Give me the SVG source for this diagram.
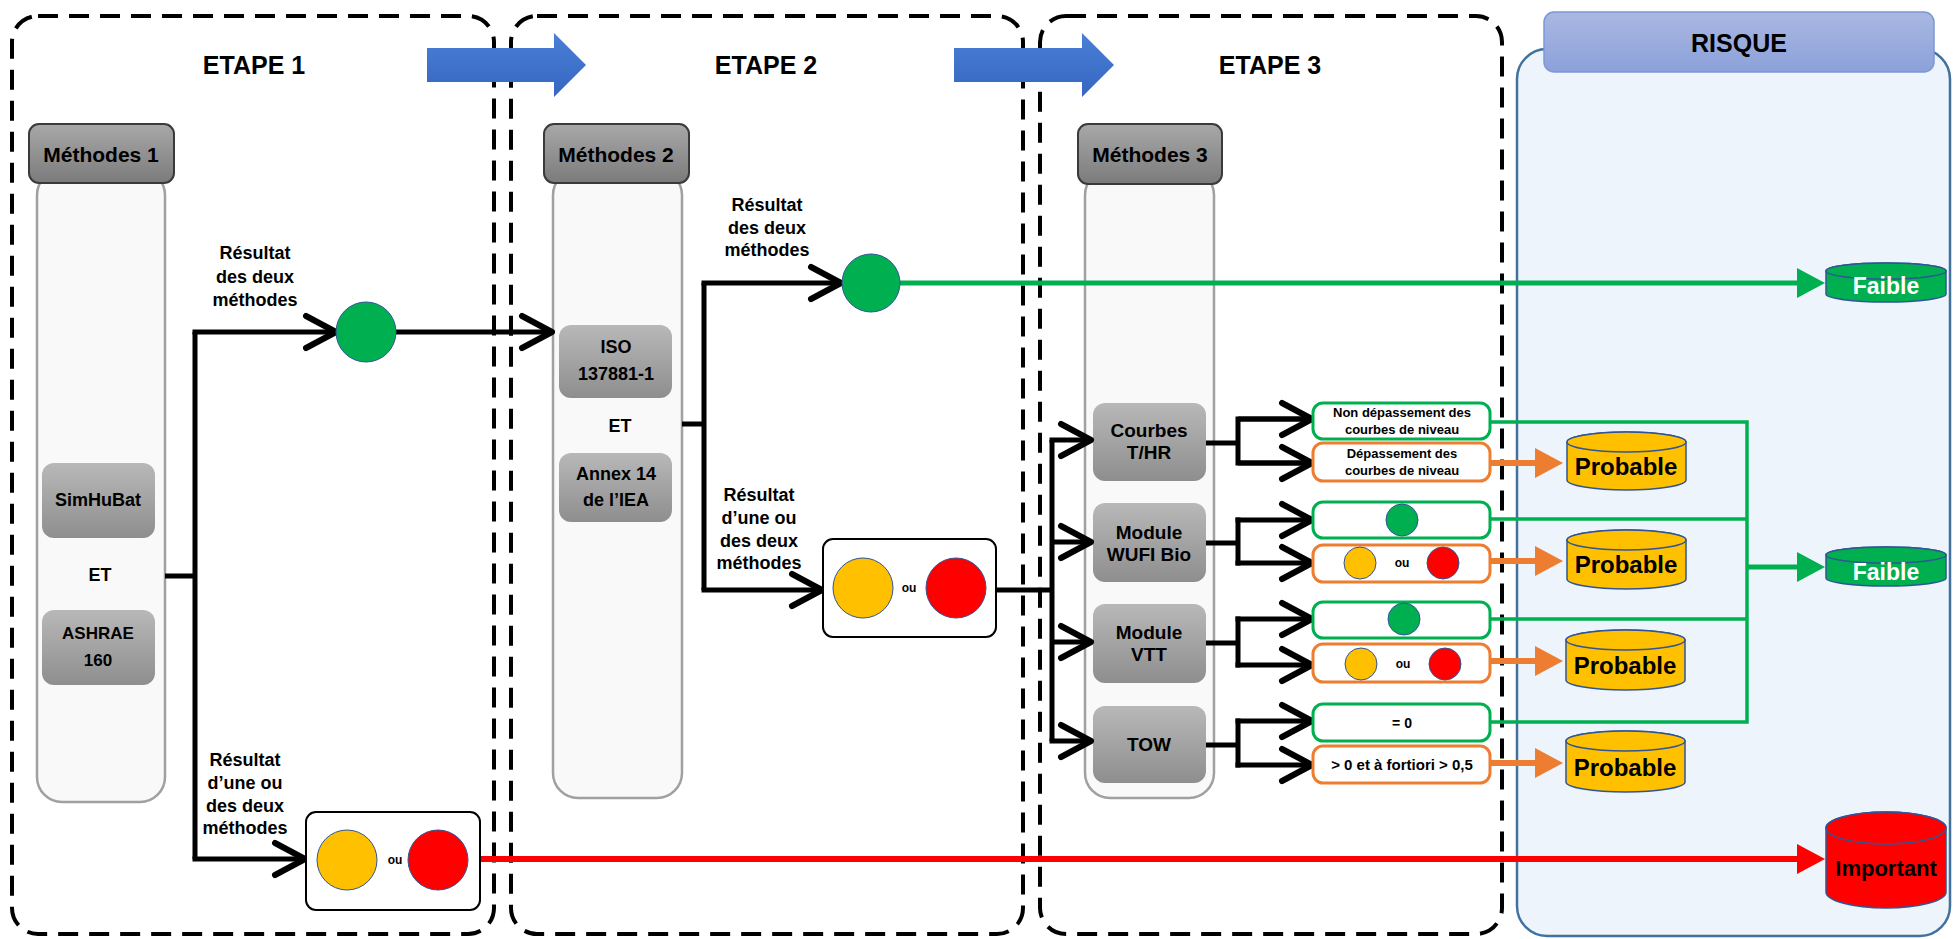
<svg xmlns="http://www.w3.org/2000/svg" width="1953" height="939" viewBox="0 0 1953 939">
<defs>
<linearGradient id="gHead" x1="0" y1="0" x2="0" y2="1"><stop offset="0" stop-color="#a8a8a8"/><stop offset="1" stop-color="#7b7b7b"/></linearGradient>
<linearGradient id="gBox" x1="0" y1="0" x2="0" y2="1"><stop offset="0" stop-color="#b8b8b8"/><stop offset="1" stop-color="#8e8e8e"/></linearGradient>
<linearGradient id="gRisk" x1="0" y1="0" x2="0" y2="1"><stop offset="0" stop-color="#a9b8e2"/><stop offset="1" stop-color="#8ca1da"/></linearGradient>
<linearGradient id="gBlue" x1="0" y1="0" x2="0" y2="1"><stop offset="0" stop-color="#4a7fd6"/><stop offset="1" stop-color="#3566c2"/></linearGradient>
<marker id="chev" markerUnits="userSpaceOnUse" viewBox="0 0 40 40" refX="35" refY="20" markerWidth="40" markerHeight="40" orient="auto">
<path d="M5,4 L35,20 L5,36" fill="none" stroke="#000" stroke-width="6" stroke-linecap="round" stroke-linejoin="round"/>
</marker>
<marker id="triG" markerUnits="userSpaceOnUse" viewBox="0 0 28 30" refX="18" refY="15" markerWidth="28" markerHeight="30" orient="auto"><path d="M0,0 L28,15 L0,30 Z" fill="#00b050"/></marker>
<marker id="triO" markerUnits="userSpaceOnUse" viewBox="0 0 28 30" refX="18" refY="15" markerWidth="28" markerHeight="30" orient="auto"><path d="M0,0 L28,15 L0,30 Z" fill="#ed7d31"/></marker>
<marker id="triR" markerUnits="userSpaceOnUse" viewBox="0 0 28 30" refX="18" refY="15" markerWidth="28" markerHeight="30" orient="auto"><path d="M0,0 L28,15 L0,30 Z" fill="#ff0000"/></marker>
</defs>
<style>
text{font-family:"Liberation Sans",Arial,sans-serif;font-weight:bold;text-anchor:middle;fill:#000}
.etape{fill:none;stroke:#000;stroke-width:4;stroke-dasharray:20 11}
.col{fill:#f9f9f9;stroke:#a0a0a0;stroke-width:2.5}
.head{fill:url(#gHead);stroke:#3a3a3a;stroke-width:2}
.box{fill:url(#gBox);stroke:none}
.blk{fill:none;stroke:#000;stroke-width:5}
.grn{fill:#00b050;stroke:#2f5597;stroke-width:1}
.yel{fill:#ffc000;stroke:#2f5597;stroke-width:1}
.red{fill:#ff0000;stroke:#2f5597;stroke-width:1}
.wbox{fill:#fff;stroke:#000;stroke-width:2}
.gbox{fill:#fff;stroke:#00b050;stroke-width:3}
.obox{fill:#fff;stroke:#ed7d31;stroke-width:3}
.gl{fill:none;stroke:#00b050;stroke-width:3.5}
.ga{fill:none;stroke:#00b050;stroke-width:5}
.oa{fill:none;stroke:#ed7d31;stroke-width:6}
.ra{fill:none;stroke:#ff0000;stroke-width:6}
.lbl{font-size:18px}
.mt{font-size:19px}
.sm{font-size:13px}
.ou{font-size:12px}
</style>

<g id="risque">
<rect x="1517" y="49" width="433" height="887" rx="30" fill="#edf4fb" stroke="#41719c" stroke-width="2.5"/>
<rect x="1544" y="12" width="390" height="60" rx="10" fill="url(#gRisk)" stroke="#7c98d6" stroke-width="1.5"/>
<text x="1739" y="52" style="font-size:25px">RISQUE</text>
</g>

<g id="etape1">
<rect class="etape" x="12" y="16" width="482" height="918" rx="26"/>
<text x="254" y="74" style="font-size:25px">ETAPE 1</text>
</g>
<g id="etape2">
<rect class="etape" x="511" y="16" width="512" height="918" rx="26"/>
<text x="766" y="74" style="font-size:25px">ETAPE 2</text>
</g>
<g id="etape3">
<rect class="etape" x="1040" y="16" width="462" height="918" rx="26"/>
<text x="1270" y="74" style="font-size:25px">ETAPE 3</text>
</g>

<g id="fleches-etapes">
<path d="M427,48 H554 V33 L586,65 L554,97 V82 H427 Z" fill="url(#gBlue)"/>
<path d="M954,48 H1082 V33 L1114,65 L1082,97 V82 H954 Z" fill="url(#gBlue)"/>
</g>

<g id="methodes1">
<rect class="col" x="37" y="170" width="128" height="632" rx="25"/>
<rect class="head" x="29" y="124" width="145" height="59" rx="10"/>
<text x="101" y="162" style="font-size:21px">Méthodes 1</text>
<rect class="box" x="42" y="463" width="113" height="75" rx="12"/>
<text class="lbl" x="98" y="506">SimHuBat</text>
<text class="lbl" x="100" y="581">ET</text>
<rect class="box" x="42" y="610" width="113" height="75" rx="12"/>
<text x="98" y="639" style="font-size:17px">ASHRAE</text>
<text x="98" y="666" style="font-size:17px">160</text>
</g>

<g id="methodes2">
<rect class="col" x="553" y="170" width="129" height="628" rx="25"/>
<rect class="head" x="544" y="124" width="145" height="59" rx="10"/>
<text x="616" y="162" style="font-size:21px">Méthodes 2</text>
<rect class="box" x="559" y="325" width="113" height="73" rx="12"/>
<text class="lbl" x="616" y="353">ISO</text>
<text class="lbl" x="616" y="380">137881-1</text>
<text class="lbl" x="620" y="432">ET</text>
<rect class="box" x="559" y="453" width="113" height="69" rx="12"/>
<text class="lbl" x="616" y="480">Annex 14</text>
<text class="lbl" x="616" y="506">de l’IEA</text>
</g>

<g id="methodes3">
<rect class="col" x="1085" y="170" width="129" height="628" rx="25"/>
<rect class="head" x="1078" y="124" width="144" height="60" rx="10"/>
<text x="1150" y="162" style="font-size:21px">Méthodes 3</text>
<rect class="box" x="1093" y="403" width="113" height="78" rx="12"/>
<text class="mt" x="1149" y="437">Courbes</text>
<text class="mt" x="1149" y="459">T/HR</text>
<rect class="box" x="1093" y="503" width="113" height="79" rx="12"/>
<text class="mt" x="1149" y="539">Module</text>
<text class="mt" x="1149" y="561">WUFI Bio</text>
<rect class="box" x="1093" y="604" width="113" height="79" rx="12"/>
<text class="mt" x="1149" y="639">Module</text>
<text class="mt" x="1149" y="661">VTT</text>
<rect class="box" x="1093" y="706" width="113" height="77" rx="12"/>
<text class="mt" x="1149" y="751">TOW</text>
</g>

<g id="connecteurs">
<!-- Etape 1 -->
<path class="blk" d="M165,576 H195"/>
<path class="blk" d="M195,332 V859"/>
<path class="blk" d="M192.5,332 H336" marker-end="url(#chev)"/>
<path class="blk" d="M192.5,859 H305" marker-end="url(#chev)"/>
<path class="blk" d="M396,332 H552" marker-end="url(#chev)"/>
<path class="ra" d="M480,859 H1815" marker-end="url(#triR)"/>
<!-- Etape 2 -->
<path class="blk" d="M682,424 H704"/>
<path class="blk" d="M704,283 V590"/>
<path class="blk" d="M701.5,283 H841" marker-end="url(#chev)"/>
<path class="blk" d="M701.5,590 H822" marker-end="url(#chev)"/>
<path class="ga" d="M900,283 H1815" marker-end="url(#triG)"/>
<path class="blk" d="M996,590 H1052"/>
<!-- Etape 3 -->
<path class="blk" d="M1052,440 V741"/>
<path class="blk" d="M1049.5,440 H1091" marker-end="url(#chev)"/>
<path class="blk" d="M1052,542 H1091" marker-end="url(#chev)"/>
<path class="blk" d="M1052,642 H1091" marker-end="url(#chev)"/>
<path class="blk" d="M1049.5,741 H1091" marker-end="url(#chev)"/>
<path class="blk" d="M1206,443 H1238 M1238,416.5 V465.5 M1235.5,419 H1312 M1235.5,463 H1312"/>
<path class="blk" d="M1238,419 H1312" marker-end="url(#chev)"/>
<path class="blk" d="M1238,463 H1312" marker-end="url(#chev)"/>
<path class="blk" d="M1206,543 H1238 M1238,517.5 V565.5"/>
<path class="blk" d="M1235.5,520 H1312" marker-end="url(#chev)"/>
<path class="blk" d="M1235.5,563 H1312" marker-end="url(#chev)"/>
<path class="blk" d="M1206,643 H1238 M1238,616.5 V667.5"/>
<path class="blk" d="M1235.5,619 H1312" marker-end="url(#chev)"/>
<path class="blk" d="M1235.5,665 H1312" marker-end="url(#chev)"/>
<path class="blk" d="M1206,745 H1238 M1238,718.5 V767.5"/>
<path class="blk" d="M1235.5,721 H1312" marker-end="url(#chev)"/>
<path class="blk" d="M1235.5,765 H1312" marker-end="url(#chev)"/>
<!-- vers risque -->
<path class="gl" d="M1490,422 H1747 V722 H1490 M1490,519 H1747 M1490,619 H1747"/>
<path class="ga" d="M1747,567 H1815" marker-end="url(#triG)"/>
<path class="oa" d="M1490,463 H1553" marker-end="url(#triO)"/>
<path class="oa" d="M1490,561 H1553" marker-end="url(#triO)"/>
<path class="oa" d="M1490,661 H1553" marker-end="url(#triO)"/>
<path class="oa" d="M1490,763 H1553" marker-end="url(#triO)"/>
</g>

<g id="labels">
<text class="lbl" x="255" y="259">Résultat</text>
<text class="lbl" x="255" y="283">des deux</text>
<text class="lbl" x="255" y="306">méthodes</text>
<text class="lbl" x="245" y="766">Résultat</text>
<text class="lbl" x="245" y="789">d’une ou</text>
<text class="lbl" x="245" y="812">des deux</text>
<text class="lbl" x="245" y="834">méthodes</text>
<text class="lbl" x="767" y="211">Résultat</text>
<text class="lbl" x="767" y="234">des deux</text>
<text class="lbl" x="767" y="256">méthodes</text>
<text class="lbl" x="759" y="501">Résultat</text>
<text class="lbl" x="759" y="524">d’une ou</text>
<text class="lbl" x="759" y="547">des deux</text>
<text class="lbl" x="759" y="569">méthodes</text>
</g>

<g id="res1-vert"><circle class="grn" cx="366" cy="332" r="30"/></g>
<g id="res1-jr">
<rect class="wbox" x="306" y="812" width="174" height="98" rx="10"/>
<circle class="yel" cx="347" cy="860" r="30"/>
<text class="ou" x="395" y="864">ou</text>
<circle class="red" cx="438" cy="860" r="30"/>
</g>
<g id="res2-vert"><circle class="grn" cx="871" cy="283" r="29"/></g>
<g id="res2-jr">
<rect class="wbox" x="823" y="539" width="173" height="98" rx="10"/>
<circle class="yel" cx="863" cy="588" r="30"/>
<text class="ou" x="909" y="592">ou</text>
<circle class="red" cx="956" cy="588" r="30"/>
</g>

<g id="thr-vert"><rect class="gbox" x="1313" y="403" width="177" height="36" rx="10"/>
<text class="sm" x="1402" y="417">Non dépassement des</text>
<text class="sm" x="1402" y="434">courbes de niveau</text></g>
<g id="thr-orange"><rect class="obox" x="1313" y="443" width="177" height="38" rx="10"/>
<text class="sm" x="1402" y="458">Dépassement des</text>
<text class="sm" x="1402" y="475">courbes de niveau</text></g>
<g id="wufi-vert"><rect class="gbox" x="1313" y="502" width="177" height="36" rx="10"/>
<circle class="grn" cx="1402" cy="520" r="16"/></g>
<g id="wufi-orange"><rect class="obox" x="1313" y="545" width="177" height="37" rx="10"/>
<circle class="yel" cx="1360" cy="563" r="16"/><text class="ou" x="1402" y="567">ou</text><circle class="red" cx="1443" cy="563" r="16"/></g>
<g id="vtt-vert"><rect class="gbox" x="1313" y="602" width="177" height="36" rx="10"/>
<circle class="grn" cx="1404" cy="619" r="16"/></g>
<g id="vtt-orange"><rect class="obox" x="1313" y="644" width="177" height="38" rx="10"/>
<circle class="yel" cx="1361" cy="664" r="16"/><text class="ou" x="1403" y="668">ou</text><circle class="red" cx="1445" cy="664" r="16"/></g>
<g id="tow-vert"><rect class="gbox" x="1313" y="704" width="177" height="37" rx="10"/>
<text x="1402" y="728" style="font-size:14px">= 0</text></g>
<g id="tow-orange"><rect class="obox" x="1313" y="746" width="177" height="37" rx="10"/>
<text x="1402" y="770" style="font-size:15px">&gt; 0 et à fortiori &gt; 0,5</text></g>

<g id="faible-1">
<path d="M1826,271 A60,8 0 0 1 1946,271 V294 A60,8 0 0 1 1826,294 Z" fill="#00b050" stroke="#2f5597" stroke-width="1.5"/>
<ellipse cx="1886" cy="271" rx="60" ry="8" fill="#00b050" stroke="#2f5597" stroke-width="1.5"/>
<text x="1886" y="294" style="font-size:23px;fill:#fff">Faible</text>
</g>
<g id="faible-2">
<path d="M1826,555 A60,8 0 0 1 1946,555 V578 A60,8 0 0 1 1826,578 Z" fill="#00b050" stroke="#2f5597" stroke-width="1.5"/>
<ellipse cx="1886" cy="555" rx="60" ry="8" fill="#00b050" stroke="#2f5597" stroke-width="1.5"/>
<text x="1886" y="580" style="font-size:23px;fill:#fff">Faible</text>
</g>
<g id="probable-1">
<path d="M1567,442 A59.5,10 0 0 1 1686,442 V480 A59.5,10 0 0 1 1567,480 Z" class="yel" style="stroke-width:1.5"/>
<ellipse cx="1626.5" cy="442" rx="59.5" ry="10" class="yel" style="stroke-width:1.5"/>
<text x="1626" y="475" style="font-size:24px">Probable</text>
</g>
<g id="probable-2">
<path d="M1567,540 A59.5,10 0 0 1 1686,540 V579 A59.5,10 0 0 1 1567,579 Z" class="yel" style="stroke-width:1.5"/>
<ellipse cx="1626.5" cy="540" rx="59.5" ry="10" class="yel" style="stroke-width:1.5"/>
<text x="1626" y="573" style="font-size:24px">Probable</text>
</g>
<g id="probable-3">
<path d="M1566,640 A59.5,10 0 0 1 1685,640 V680 A59.5,10 0 0 1 1566,680 Z" class="yel" style="stroke-width:1.5"/>
<ellipse cx="1625.5" cy="640" rx="59.5" ry="10" class="yel" style="stroke-width:1.5"/>
<text x="1625" y="674" style="font-size:24px">Probable</text>
</g>
<g id="probable-4">
<path d="M1566,741 A59.5,10 0 0 1 1685,741 V782 A59.5,10 0 0 1 1566,782 Z" class="yel" style="stroke-width:1.5"/>
<ellipse cx="1625.5" cy="741" rx="59.5" ry="10" class="yel" style="stroke-width:1.5"/>
<text x="1625" y="776" style="font-size:24px">Probable</text>
</g>
<g id="important">
<path d="M1826,828 A60,16 0 0 1 1946,828 V892 A60,16 0 0 1 1826,892 Z" class="red" style="stroke-width:1.5"/>
<ellipse cx="1886" cy="828" rx="60" ry="16" class="red" style="stroke-width:1.5"/>
<text x="1886" y="876" style="font-size:22px">Important</text>
</g>
</svg>
